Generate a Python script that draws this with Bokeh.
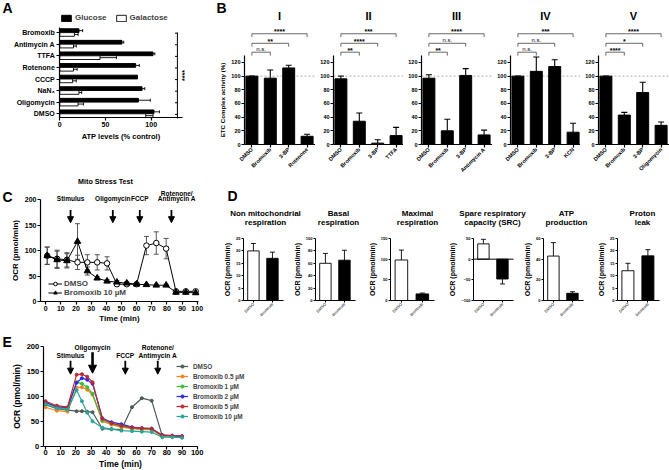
import numpy as np
from bokeh.plotting import figure
from bokeh.models import (ColumnDataSource, Whisker, TeeHead, Arrow, NormalHead, Label,
                          FixedTicker, Legend, LegendItem, Range1d)
from bokeh.layouts import row, column
from bokeh.embed import file_html
from bokeh.resources import INLINE

FONT = "Liberation Sans"

# ---------------- Panel A data ----------------
a_categories = ["DMSO", "Oligomycin", "NaN₃", "CCCP", "Rotenone", "TTFA", "Antimycin A", "Bromoxib"]
a_glucose = [103, 86, 90, 85, 83, 102, 68, 21]
a_glucose_err = [6, 13, 3, 0, 4, 2, 2, 4]
a_galactose = [94, 20, 21, 14, 15, 44, 15, 16]
a_galactose_err = [8, 6, 3, 4, 4, 18, 3, 4]
a_xticks = [0, 50, 100]

# ---------------- Panel B data ----------------
b_titles = ["I", "II", "III", "IV", "V"]
b_labels = [["DMSO", "Bromoxib", "3-BP", "Rotenone"],
            ["DMSO", "Bromoxib", "3-BP", "TTFA"],
            ["DMSO", "Bromoxib", "3-BP", "Antimycin A"],
            ["DMSO", "Bromoxib", "3-BP", "KCN"],
            ["DMSO", "Bromoxib", "3-BP", "Oligomycin"]]
b_values = [[100, 97, 112, 12], [96, 34, 2, 13], [97, 20, 101, 14], [100, 107, 114, 18], [100, 43, 76, 28]]
b_errors = [[0, 12, 4, 3], [4, 12, 5, 12], [5, 17, 10, 7], [0, 21, 10, 13], [0, 4, 15, 5]]
b_sig = [["n.s.", "**", "****"], ["**", "****", "***"], ["**", "n.s.", "****"],
         ["n.s.", "n.s.", "***"], ["****", "*", "****"]]
b_yticks = [0, 20, 40, 60, 80, 100, 120]

# ---------------- Panel C data ----------------
c_time = [1, 7.5, 14, 21, 27.5, 34, 40.5, 47, 53.5, 60, 66.5, 73, 79.5, 86, 92.5, 99]
c_dmso = [90, 84, 82, 77, 77, 77, 75, 34, 34, 34, 110, 115, 104, 20, 20, 20]
c_dmso_err = [17, 17, 14, 14, 15, 15, 13, 3, 3, 3, 18, 22, 20, 2, 2, 2]
c_brom = [90, 82, 80, 118, 60, 46, 40, 38, 36, 34, 33, 32, 32, 18, 18, 17]
c_brom_err = [17, 17, 14, 35, 8, 3, 3, 3, 3, 3, 2, 2, 2, 3, 3, 3]
c_xticks = [0, 10, 20, 30, 40, 50, 60, 70, 80, 90, 100]
c_yticks = [0, 50, 100, 150, 200]
c_arrow_t = [16.4, 44.3, 62.1, 83.0]
c_arrow_text = [["Stimulus"], ["Oligomycin"], ["FCCP"], ["Rotenone/", "Antimycin A"]]

# ---------------- Panel D data ----------------
d_titles = [["Non mitochondrial", "respiration"], ["Basal", "respiration"], ["Maximal", "respiration"],
            ["Spare respiratory", "capacity (SRC)"], ["ATP", "production"], ["Proton", "leak"]]
d_groups = ["DMSO", "Bromoxib"]
d_dmso = [20, 60, 98, 37, 43, 12]
d_dmso_err = [3, 16, 24, 11, 13, 3]
d_brom = [17, 65, 16, -48, 7, 18]
d_brom_err = [2.5, 16, 2, 12, 1.5, 2.5]
d_yticks = [[0, 5, 10, 15, 20, 25], [0, 20, 40, 60, 80, 100], [0, 50, 100, 150],
            [-100, -50, 0, 50], [0, 20, 40, 60], [0, 5, 10, 15, 20, 25]]

# ---------------- Panel E data ----------------
e_time = [0, 7.5, 14.5, 20.5, 24, 27.5, 31, 37.5, 43.5, 50, 57, 63.5, 70, 77, 83.5, 90]
e_series = ["DMSO", "Bromoxib 0.5 µM", "Bromoxib 1 µM", "Bromoxib 2 µM", "Bromoxib 5 µM", "Bromoxib 10 µM"]
e_values = [
    [83, 75, 72, 70, 70, 69, 68, 35, 34, 33, 78, 96, 91, 20, 19, 18],
    [78, 71, 69, 117, 118, 113, 103, 50, 43, 38, 35, 33, 33, 19, 19, 18],
    [87, 77, 75, 128, 125, 118, 105, 52, 45, 40, 36, 35, 34, 21, 20, 19],
    [88, 79, 77, 127, 136, 133, 125, 56, 48, 44, 38, 36, 35, 22, 21, 20],
    [90, 81, 78, 143, 144, 139, 128, 55, 46, 41, 37, 36, 35, 22, 21, 20],
    [84, 76, 73, 112, 90, 67, 50, 37, 34, 31, 30, 29, 28, 18, 18, 17],
]
e_colors = ["#4d5a5a", "#f5821f", "#3dbb3d", "#2a2ae8", "#c1272d", "#2aa39b"]
e_xticks = [0, 10, 20, 30, 40, 50, 60, 70, 80, 90, 100]
e_yticks = [0, 50, 100, 150, 200]
e_arrow_t = [16.5, 31.0, 52.6, 74.0]
e_arrow_text = [["Stimulus"], ["Oligomycin"], ["FCCP"], ["Rotenone/", "Antimycin A"]]


# ---------------- helpers ----------------
class Geo:
    """Maps page pixels to the data space of one figure (frame == whole canvas)."""
    def __init__(self, X0, Y0, W, H, kx, ky, xs, ys):
        self.X0, self.Y0, self.W, self.H = X0, Y0, W, H
        self.kx, self.ky, self.xs, self.ys = kx, ky, xs, ys

    def x(self, X):
        return self.xs + (X - self.X0) / self.kx

    def y(self, Y):
        return self.ys + (self.Y0 + self.H - Y) / self.ky


def make_fig(X0, Y0, W, H, kx, xv0, xp0, ky, yv0, yp0, axes=True):
    xs = xv0 - (xp0 - X0) / kx
    ys = yv0 - (Y0 + H - yp0) / ky
    kw = {} if axes else dict(x_axis_type=None, y_axis_type=None)
    p = figure(width=W, height=H, x_range=Range1d(xs, xs + W / kx), y_range=Range1d(ys, ys + H / ky),
               output_backend="svg", toolbar_location=None, min_border=0, min_border_left=0,
               min_border_right=0, min_border_top=0, min_border_bottom=0, frame_align=False, **kw)
    p.outline_line_color = None
    p.xgrid.visible = False
    p.ygrid.visible = False
    p.background_fill_color = "white"
    p.border_fill_color = "white"
    return p, Geo(X0, Y0, W, H, kx, ky, xs, ys)


def style_axes(p, tick_size, label_size, lw=1.2, tick_out=3):
    for ax in p.axis:
        ax.axis_line_width = lw
        ax.major_tick_line_width = lw
        ax.major_tick_out = tick_out
        ax.major_tick_in = 0
        ax.minor_tick_line_color = None
        ax.major_label_text_font = FONT
        ax.major_label_text_font_style = "bold"
        ax.major_label_text_font_size = f"{tick_size}px"
        ax.major_label_text_color = "black"
        ax.axis_label_text_font = FONT
        ax.axis_label_text_font_style = "bold"
        ax.axis_label_text_font_size = f"{label_size}px"
        ax.axis_label_text_color = "black"
        ax.major_label_standoff = 1
        ax.axis_label_standoff = 2


def text_data(p, x, y, text, size, align="center", baseline="middle", style="bold", angle=0.0):
    p.add_layout(Label(x=x, y=y, x_units="data", y_units="data", text=text, text_font=FONT,
                       text_font_size=f"{size}px", text_font_style=style, text_align=align,
                       text_baseline=baseline, angle=angle, text_color="black"))


def text_page(p, g, X, Y, text, size, **kw):
    text_data(p, g.x(X), g.y(Y), text, size, **kw)


# ================= Panel A =================
pA, gA = make_fig(0, 0, 215, 172, 0.914, 0, 59.3, 11.6, 0, 113.3)
ya = np.arange(len(a_categories))
srcA = ColumnDataSource(dict(
    yg=ya + 0.17, ys=ya - 0.16,
    g=a_glucose, s=a_galactose,
    ghi=np.array(a_glucose) + np.array(a_glucose_err),
    shi=np.array(a_galactose) + np.array(a_galactose_err)))
rg = pA.hbar(y="yg", left=0, right="g", height=0.32, fill_color="black", line_color="black", source=srcA)
rs = pA.hbar(y="ys", left=0, right="s", height=0.32, fill_color="white", line_color="black",
             line_width=0.9, source=srcA)
pA.add_layout(Whisker(source=srcA, base="yg", lower="g", upper="ghi", dimension="width",
                      upper_head=TeeHead(size=3, line_width=0.9), lower_head=None, line_width=0.9))
pA.add_layout(Whisker(source=srcA, base="ys", lower="s", upper="shi", dimension="width",
                      upper_head=TeeHead(size=3, line_width=0.9), lower_head=None, line_width=0.9))
style_axes(pA, 7, 7.5)
pA.yaxis.fixed_location = 0
pA.xaxis.fixed_location = gA.y(117)
pA.xaxis.ticker = FixedTicker(ticks=a_xticks)
pA.xaxis.bounds = (0, 134)
pA.yaxis.bounds = (gA.y(117), gA.y(27))
pA.xaxis.axis_label = "ATP levels (% control)"
pA.yaxis.ticker = FixedTicker(ticks=list(range(len(a_categories))))
pA.yaxis.major_label_overrides = {int(i): c for i, c in enumerate(a_categories)}
pA.yaxis.major_label_standoff = 2
bx = gA.x(176.9)
pA.segment(x0=[bx], y0=[gA.y(118)], x1=[bx], y1=[gA.y(32)], line_color="black", line_width=1)
pA.segment(x0=np.full(len(ya), bx - 2.6), y0=ya - 0.05, x1=np.full(len(ya), bx), y1=ya - 0.05,
           line_color="black", line_width=1)
text_page(pA, gA, 183.5, 75, "****", 7, angle=np.pi / 2)
legA = Legend(items=[LegendItem(label="Glucose", renderers=[rg]),
                     LegendItem(label="Galactose", renderers=[rs])],
              orientation="horizontal", location=(60, 150), glyph_width=12, glyph_height=8,
              label_text_font=FONT, label_text_font_size="8px", label_text_font_style="bold",
              label_standoff=3, spacing=8, padding=0, margin=0, border_line_color=None,
              background_fill_alpha=0, label_height=9)
pA.add_layout(legA)
text_page(pA, gA, 2, -1, "A", 14, align="left", baseline="top")

# ================= Panel B =================
B_X0 = [215, 315, 403, 492, 580]
B_W = [100, 88, 89, 88, 89]
B_AXIS = [244, 333, 421, 510, 598]
bracket_levels = [135, 148, 162]
b_figs = []
b_geos = []
for i in range(5):
    p, g = make_fig(B_X0[i], 0, B_W[i], 172, 18.4, 0, B_AXIS[i] + 7.4, 0.6837, 0, 144)
    xa = g.x(B_AXIS[i])
    xs = np.arange(len(b_values[i]))
    src = ColumnDataSource(dict(x=xs, v=b_values[i],
                                hi=np.array(b_values[i]) + np.array(b_errors[i])))
    p.segment(x0=[xa], y0=[100], x1=[p.x_range.end], y1=[100], line_color="#999999",
              line_dash="2 2", line_width=0.8)
    p.vbar(x="x", bottom=0, top="v", width=0.65, fill_color="black", line_color="black", source=src)
    p.add_layout(Whisker(source=src, base="x", lower="v", upper="hi",
                         upper_head=TeeHead(size=6, line_width=1.1), lower_head=None, line_width=1.1))
    style_axes(p, 5.5, 6.2)
    p.yaxis.fixed_location = xa
    p.xaxis.fixed_location = 0
    p.yaxis.ticker = FixedTicker(ticks=b_yticks)
    p.yaxis.bounds = (0, 130)
    p.xaxis.ticker = FixedTicker(ticks=list(range(4)))
    p.xaxis.major_label_overrides = {int(k): t for k, t in enumerate(b_labels[i])}
    p.xaxis.major_label_orientation = np.pi / 4
    p.xaxis.bounds = (xa, g.x(B_AXIS[i] + 71))
    if i == 0:
        p.yaxis.axis_label = "ETC Complex activity (%)"
    for j, lev in enumerate(bracket_levels):
        k = j + 1
        p.segment(x0=[0, 0, k], y0=[lev, lev, lev], x1=[k, 0, k], y1=[lev, lev - 5, lev - 5],
                  line_color="#444444", line_width=0.8)
        sig = b_sig[i][j]
        if sig == "n.s.":
            text_data(p, k / 2, lev + 1, sig, 6, baseline="bottom", style="normal")
        else:
            text_data(p, k / 2, lev - 2, sig, 7, baseline="bottom")
    text_data(p, 1.5, g.y(15), b_titles[i], 11)
    b_figs.append(p)
    b_geos.append(g)
text_page(b_figs[0], b_geos[0], 216, -1, "B", 14, align="left", baseline="top")

# ================= Panel C =================
pC, gC = make_fig(0, 172, 221, 153, 1.515, 0, 45.2, 0.5085, 0, 301)
srcC = ColumnDataSource(dict(
    t=c_time, d=c_dmso, b=c_brom,
    dlo=np.array(c_dmso) - np.array(c_dmso_err), dhi=np.array(c_dmso) + np.array(c_dmso_err),
    blo=np.array(c_brom) - np.array(c_brom_err), bhi=np.array(c_brom) + np.array(c_brom_err)))
for lo, hi in (("dlo", "dhi"), ("blo", "bhi")):
    pC.add_layout(Whisker(source=srcC, base="t", lower=lo, upper=hi, line_color="#444444",
                          line_width=0.9,
                          upper_head=TeeHead(size=5, line_color="#444444", line_width=0.9),
                          lower_head=TeeHead(size=5, line_color="#444444", line_width=0.9)))
l1 = pC.line("t", "d", source=srcC, line_color="black", line_width=1)
m1 = pC.scatter("t", "d", source=srcC, marker="circle", size=5.5, fill_color="white",
                line_color="black", line_width=1)
l2 = pC.line("t", "b", source=srcC, line_color="black", line_width=1)
m2 = pC.scatter("t", "b", source=srcC, marker="triangle", size=6.5, fill_color="black",
                line_color="black")
style_axes(pC, 7, 8)
xaC = gC.x(40)
pC.yaxis.fixed_location = xaC
pC.xaxis.fixed_location = 0
pC.xaxis.ticker = FixedTicker(ticks=c_xticks)
pC.yaxis.ticker = FixedTicker(ticks=c_yticks)
pC.xaxis.bounds = (xaC, gC.x(198))
pC.yaxis.bounds = (0, 200)
pC.xaxis.axis_label = "Time (min)"
pC.yaxis.axis_label = "OCR (pmol/min)"
pC.xaxis.axis_label_standoff = 0
for t, lines in zip(c_arrow_t, c_arrow_text):
    pC.add_layout(Arrow(x_start=t, y_start=180, x_end=t, y_end=155, line_width=1.8,
                        end=NormalHead(size=6, fill_color="black", line_color="black")))
    if len(lines) == 1:
        text_data(pC, t, 202, lines[0], 6.5)
    else:
        text_data(pC, t + 3.5, 212, lines[0], 6.5)
        text_data(pC, t + 3.5, 202, lines[1], 6.5)
legC = Legend(items=[LegendItem(label="DMSO", renderers=[l1, m1]),
                     LegendItem(label="Bromoxib 10 µM", renderers=[l2, m2])],
              location=(48, 28), glyph_width=14, glyph_height=9, label_height=9, spacing=0,
              padding=0, margin=0, label_standoff=2, label_text_font=FONT,
              label_text_font_size="8px", label_text_font_style="bold",
              border_line_color=None, background_fill_alpha=0)
pC.add_layout(legC)
text_page(pC, gC, 105, 181, "Mito Stress Test", 7.2)
text_page(pC, gC, 2, 188, "C", 14, align="left", baseline="top")

# ================= Panel D =================
# titles strip (no axes) above the six small charts
pDt, gDt = make_fig(221, 172, 448, 56, 1, 0, 221, 1, 0, 228, axes=False)
D_TITLE_X = [265, 338, 417, 492, 566, 642]
for i in range(6):
    text_page(pDt, gDt, D_TITLE_X[i], 213, d_titles[i][0], 8)
    text_page(pDt, gDt, D_TITLE_X[i], 222, d_titles[i][1], 8)
text_page(pDt, gDt, 227, 187, "D", 14, align="left", baseline="top")

D_X0 = [221, 293, 366, 446, 521, 593]
D_W = [72, 73, 80, 75, 72, 76]
D_AXIS = [243, 315, 390, 473, 543, 617]
D_LEN = [40, 40, 44, 40, 40, 42]
d_figs = []
for i in range(6):
    yt = d_yticks[i]
    ky = 62.0 / (max(yt) - min(yt))
    kx = D_LEN[i] / 2.1
    p, g = make_fig(D_X0[i], 228, D_W[i], 97, kx, 0, D_AXIS[i] + 0.52 * kx, ky, min(yt), 300)
    xa = g.x(D_AXIS[i])
    xe = g.x(D_AXIS[i] + D_LEN[i])
    vals = [d_dmso[i], d_brom[i]]
    errs = [d_dmso_err[i], d_brom_err[i]]
    sgn = np.sign(vals)
    src = ColumnDataSource(dict(x=[0, 1], v=vals, e=np.array(vals) + sgn * np.array(errs),
                                fc=["white", "black"]))
    p.add_layout(Whisker(source=src, base="x", lower="v", upper="e", line_width=0.9,
                         upper_head=TeeHead(size=5, line_width=0.9), lower_head=None,
                         level="underlay"))
    p.vbar(x="x", bottom=0, top="v", width=0.6, fill_color="fc", line_color="black",
           line_width=0.9, source=src)
    if min(yt) < 0:
        p.segment(x0=[xa], y0=[0], x1=[xe], y1=[0], line_color="black", line_width=1)
    style_axes(p, 4, 7, lw=1, tick_out=2)
    p.yaxis.fixed_location = xa
    p.xaxis.fixed_location = min(yt)
    p.yaxis.bounds = (min(yt), max(yt))
    p.xaxis.bounds = (xa, xe)
    p.yaxis.ticker = FixedTicker(ticks=yt)
    p.yaxis.axis_label = "OCR (pmol/min)"
    p.xaxis.ticker = FixedTicker(ticks=[0, 1])
    p.xaxis.major_label_overrides = {0: d_groups[0], 1: d_groups[1]}
    p.xaxis.major_label_orientation = np.pi / 4
    p.xaxis.major_label_text_font_style = "normal"
    d_figs.append(p)

# ================= Panel E =================
pE, gE = make_fig(0, 325, 669, 145, 1.517, 0, 45, 0.5, 0, 445.7)
items = []
for name, vals, col in zip(e_series, e_values, e_colors):
    ln = pE.line(e_time, vals, line_color=col, line_width=1.2)
    mk = pE.scatter(e_time, vals, marker="circle", size=3, fill_color=col, line_color=col)
    items.append(LegendItem(label=name, renderers=[ln, mk]))
style_axes(pE, 7.5, 8.5)
xaE = gE.x(42.7)
pE.yaxis.fixed_location = xaE
pE.xaxis.fixed_location = 0
pE.xaxis.ticker = FixedTicker(ticks=e_xticks)
pE.yaxis.ticker = FixedTicker(ticks=e_yticks)
pE.xaxis.bounds = (xaE, 100)
pE.yaxis.bounds = (0, 200)
pE.xaxis.axis_label = "Time (min)"
pE.yaxis.axis_label = "OCR (pmol/min)"
pE.xaxis.axis_label_standoff = 0
for k, (t, lines) in enumerate(zip(e_arrow_t, e_arrow_text)):
    if k == 1:
        pE.add_layout(Arrow(x_start=t, y_start=188, x_end=t, y_end=146, line_width=2.6,
                            end=NormalHead(size=8, fill_color="black", line_color="black")))
        text_data(pE, t, 198, lines[0], 6.6)
    else:
        pE.add_layout(Arrow(x_start=t, y_start=171, x_end=t, y_end=144, line_width=1.8,
                            end=NormalHead(size=6, fill_color="black", line_color="black")))
        if len(lines) == 1:
            text_data(pE, t, 181, lines[0], 6.6)
        else:
            text_data(pE, t, 198, lines[0], 6.6)
            text_data(pE, t, 181, lines[1], 6.6)
legE = Legend(items=items, location=(176, 50), glyph_width=12, glyph_height=8, label_height=8,
              spacing=2, padding=0, margin=0, label_standoff=5, label_text_font=FONT,
              label_text_font_size="6.4px", label_text_font_style="bold",
              border_line_color=None, background_fill_alpha=0)
pE.add_layout(legE)
text_page(pE, gE, 2, 333, "E", 14, align="left", baseline="top")

layout = column(row(pA, *b_figs), row(pC, column(pDt, row(*d_figs))), row(pE))
open("out.html", "w").write(file_html(layout, INLINE))
